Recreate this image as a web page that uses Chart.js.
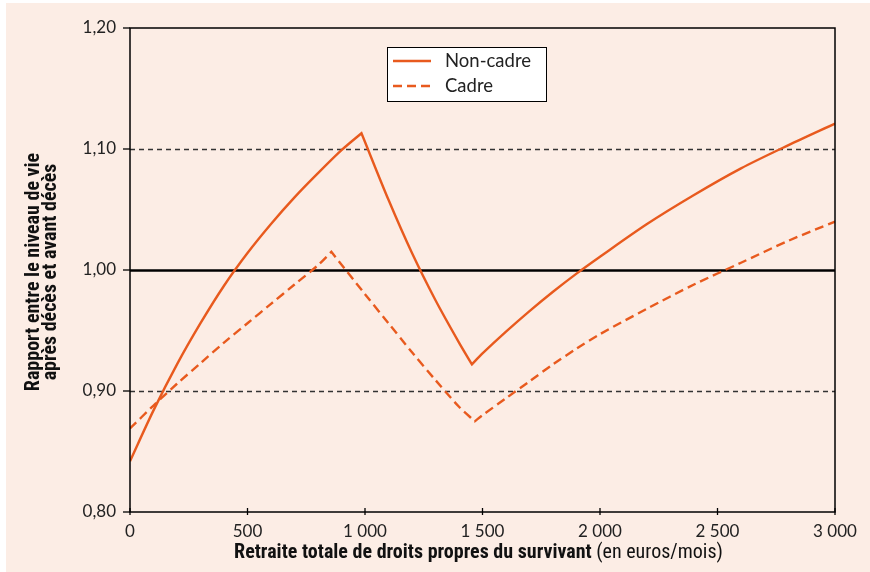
<!DOCTYPE html>
<html lang="fr">
  <head>
    <meta charset="utf-8" />
    <script src="https://cdn.jsdelivr.net/npm/chart.js"></script>
    <style>
      html, body { margin: 0; padding: 0; background: #ffffff; }
      #wrap { width: 870px; height: 572px; }
    </style>
  </head>
  <body>
    <div id="wrap"><canvas id="myChart" width="870" height="572"></canvas></div>
    <script>
      // valeurs
      const nonCadreX = [0, 100, 200, 300, 400, 500, 600, 700, 800, 900, 985,
        1100, 1200, 1300, 1400, 1455, 1500, 1600, 1700, 1800, 1900, 2000,
        2200, 2400, 2600, 2800, 3000];
      const nonCadre = [0.842, 0.884, 0.922, 0.956, 0.987, 1.014, 1.038, 1.060, 1.080, 1.099, 1.113,
        1.058, 1.014, 0.975, 0.940, 0.922, 0.931, 0.949, 0.966, 0.982, 0.997, 1.011,
        1.038, 1.062, 1.084, 1.103, 1.121];
      const nonCadreKinks = [985, 1455];

      const cadreX = [0, 100, 200, 300, 400, 500, 600, 700, 800, 857,
        1000, 1100, 1200, 1300, 1400, 1467, 1500, 1600, 1700, 1800, 1900, 2000,
        2200, 2400, 2600, 2800, 3000];
      const cadre = [0.869, 0.888, 0.906, 0.923, 0.940, 0.956, 0.972, 0.988, 1.004, 1.015,
        0.980, 0.956, 0.932, 0.909, 0.887, 0.875, 0.880, 0.894, 0.908, 0.922, 0.935, 0.947,
        0.968, 0.988, 1.006, 1.024, 1.040];
      const cadreKinks = [857, 1467];

      const refLines = [1.10, 1.00, 0.90];
      const seriesNames = ["Non-cadre", "Cadre"];

      const ORANGE = "#e85a1e";
      const PINK = "#fcede5";
      const FONT = "Lato, 'Open Sans', sans-serif";
      const NARROW = "'Liberation Sans Narrow', 'Roboto Condensed', 'DejaVu Sans Condensed', sans-serif";

      // les points anguleux sont doublés pour garder une cassure nette malgré la courbe lissée
      const toPoints = (xs, ys, kinks) => {
        const pts = [];
        xs.forEach((x, i) => {
          pts.push({ x: x, y: ys[i] });
          if (kinks.includes(x)) pts.push({ x: x, y: ys[i] });
        });
        return pts;
      };

      const decor = {
        id: "decor",
        beforeDraw(chart) {
          const ctx = chart.ctx;
          ctx.save();
          ctx.fillStyle = "#ffffff";
          ctx.fillRect(0, 0, chart.width, chart.height);
          ctx.fillStyle = PINK;
          ctx.fillRect(6, 3, chart.width - 6, chart.height - 3);
          ctx.restore();
        },
        beforeDatasetsDraw(chart) {
          const ctx = chart.ctx;
          const a = chart.chartArea;
          const ys = chart.scales.y;
          ctx.save();
          refLines.forEach((v) => {
            const py = Math.round(ys.getPixelForValue(v)) + 0.5;
            ctx.beginPath();
            if (v === 1.0) {
              ctx.setLineDash([]);
              ctx.strokeStyle = "#000";
              ctx.lineWidth = 2.4;
            } else {
              ctx.setLineDash([5, 4]);
              ctx.strokeStyle = "#333";
              ctx.lineWidth = 1.3;
            }
            ctx.moveTo(a.left, py);
            ctx.lineTo(a.right, py);
            ctx.stroke();
          });
          ctx.restore();
        },
        afterDraw(chart) {
          const ctx = chart.ctx;
          const a = chart.chartArea;
          const xs = chart.scales.x;
          const ys = chart.scales.y;
          ctx.save();
          // cadre
          ctx.strokeStyle = "#000";
          ctx.lineWidth = 1.5;
          ctx.strokeRect(a.left, a.top, a.right - a.left, a.bottom - a.top);
          // graduations
          ctx.lineWidth = 1.3;
          ys.ticks.forEach((t) => {
            const py = ys.getPixelForValue(t.value);
            ctx.beginPath();
            ctx.moveTo(a.left - 7, py);
            ctx.lineTo(a.left, py);
            ctx.stroke();
          });
          xs.ticks.forEach((t) => {
            const px = xs.getPixelForValue(t.value);
            ctx.beginPath();
            ctx.moveTo(px, a.bottom - 4);
            ctx.lineTo(px, a.bottom + 3);
            ctx.stroke();
          });

          // légende
          ctx.fillStyle = "#fff";
          ctx.fillRect(387, 47, 159, 54);
          ctx.strokeStyle = "#000";
          ctx.lineWidth = 1;
          ctx.strokeRect(387.5, 47.5, 159, 54);
          chart.data.datasets.forEach((ds, i) => {
            const ly = 61 + i * 25;
            ctx.beginPath();
            ctx.strokeStyle = ds.borderColor;
            ctx.lineWidth = ds.borderWidth;
            ctx.setLineDash(ds.borderDash || []);
            ctx.moveTo(393, ly);
            ctx.lineTo(431, ly);
            ctx.stroke();
            ctx.setLineDash([]);
            ctx.fillStyle = "#222";
            ctx.font = "18.5px " + FONT;
            ctx.textBaseline = "middle";
            ctx.textAlign = "left";
            ctx.fillText(ds.label, 445, ly);
          });

          // titre de l'axe des x
          const bold = "Retraite totale de droits propres du survivant";
          const normal = " (en euros/mois)";
          ctx.fillStyle = "#111";
          ctx.textBaseline = "middle";
          ctx.font = "bold 20px " + NARROW;
          const wb = ctx.measureText(bold).width;
          ctx.font = "20px " + NARROW;
          const wn = ctx.measureText(normal).width;
          const cx = (a.left + a.right) / 2 - 4;
          const sx = cx - (wb + wn) / 2;
          ctx.font = "bold 20px " + NARROW;
          ctx.textAlign = "left";
          ctx.fillText(bold, sx, 553);
          ctx.font = "20px " + NARROW;
          ctx.fillText(normal, sx + wb, 553);

          // titre de l'axe des y
          ctx.translate(42, (a.top + a.bottom) / 2 + 2);
          ctx.rotate(-Math.PI / 2);
          ctx.font = "bold 20px " + NARROW;
          ctx.textAlign = "center";
          ctx.fillText("Rapport entre le niveau de vie", 0, -8.5);
          ctx.fillText("après décès et avant décès", 0, 8.5);
          ctx.restore();
        },
      };

      const ctx = document.getElementById("myChart").getContext("2d");
      const myChart = new Chart(ctx, {
        type: "line",
        data: {
          datasets: [
            {
              label: seriesNames[0],
              data: toPoints(nonCadreX, nonCadre, nonCadreKinks),
              borderColor: ORANGE,
              borderWidth: 2.4,
              pointRadius: 0,
              tension: 0.3,
              fill: false,
            },
            {
              label: seriesNames[1],
              data: toPoints(cadreX, cadre, cadreKinks),
              borderColor: ORANGE,
              borderWidth: 2.4,
              borderDash: [9, 5],
              pointRadius: 0,
              tension: 0.3,
              fill: false,
            },
          ],
        },
        options: {
          responsive: false,
          animation: false,
          devicePixelRatio: 1,
          layout: { padding: { left: 10, top: 28, right: 35, bottom: 0 } },
          plugins: {
            legend: { display: false },
            tooltip: { enabled: false },
          },
          scales: {
            x: {
              type: "linear",
              min: 0,
              max: 3000,
              grid: { display: false, drawTicks: false },
              border: { display: false },
              afterFit: (s) => { s.height = 60; },
              ticks: {
                stepSize: 500,
                padding: 9,
                color: "#222",
                font: { family: FONT, size: 17 },
                maxRotation: 0,
                callback: (v) => (v >= 1000 ? Math.floor(v / 1000) + " " + String(v % 1000).padStart(3, "0") : String(v)),
              },
            },
            y: {
              type: "linear",
              min: 0.8,
              max: 1.2,
              grid: { display: false, drawTicks: false },
              border: { display: false },
              afterFit: (s) => { s.width = 120; },
              ticks: {
                stepSize: 0.1,
                padding: 14,
                color: "#222",
                font: { family: FONT, size: 17 },
                callback: (v) => v.toFixed(2).replace(".", ","),
              },
            },
          },
        },
        plugins: [decor],
      });
    </script>
  </body>
</html>
